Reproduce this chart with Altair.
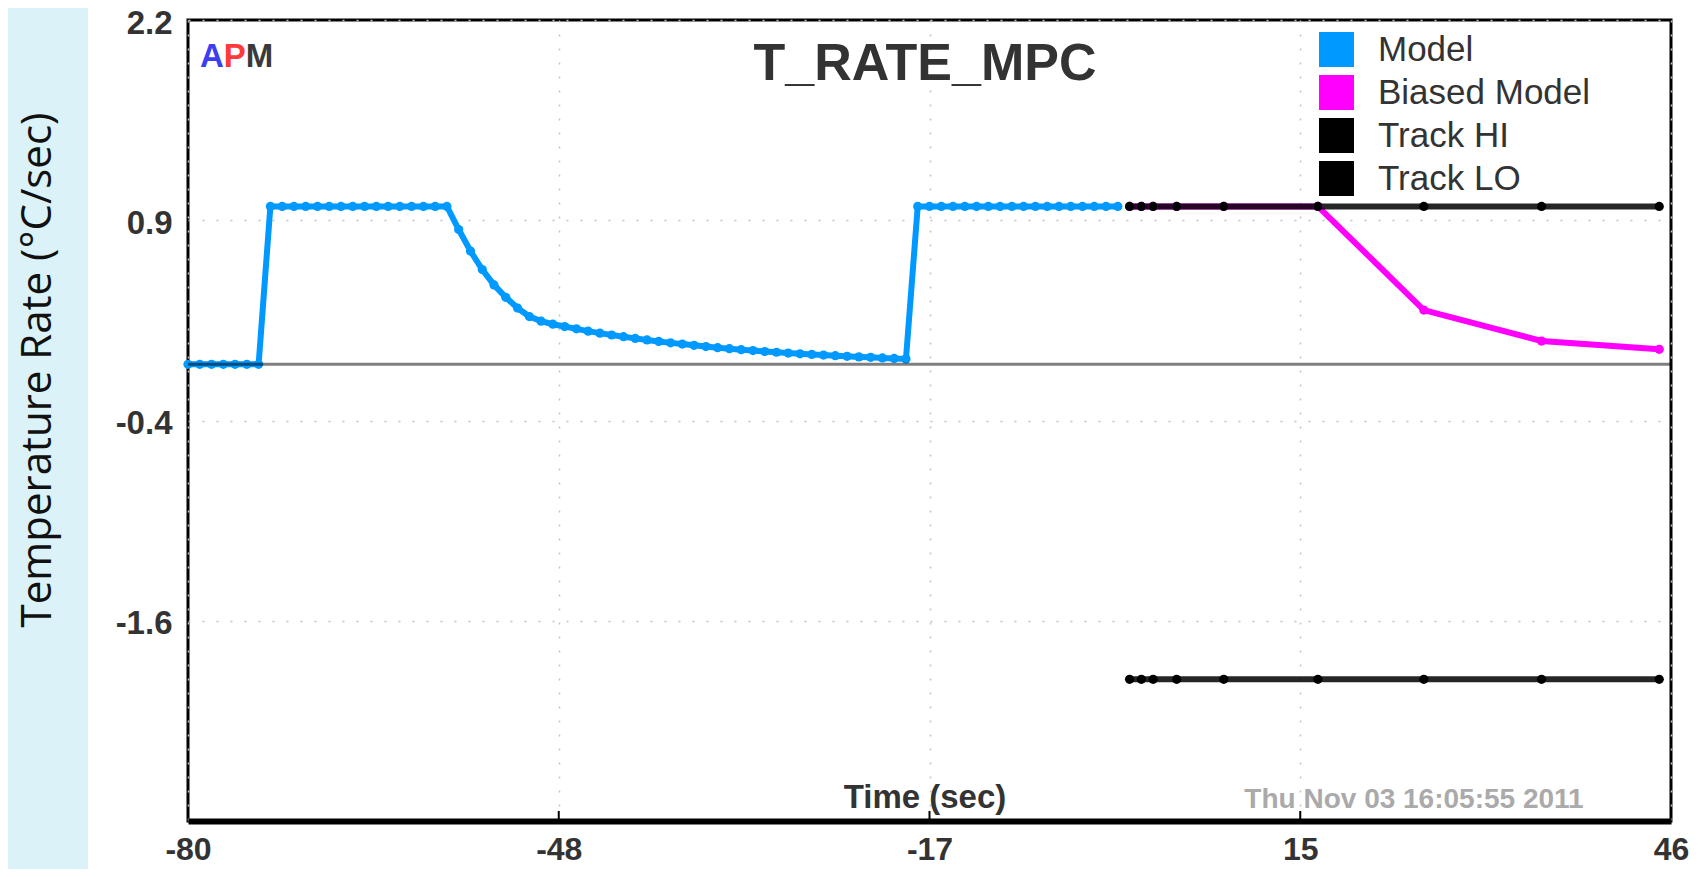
import altair as alt
import pandas as pd

# ---------------- data ----------------
model_t = list(range(-80, 0))
model_v = [
    -0.035, -0.035, -0.035, -0.035, -0.035, -0.035, -0.035,
    0.99, 0.99, 0.99, 0.99, 0.99, 0.99, 0.99, 0.99,
    0.99, 0.99, 0.99, 0.99, 0.99, 0.99, 0.99, 0.99,
    0.84, 0.70, 0.58, 0.48, 0.40, 0.33, 0.275, 0.245, 0.225, 0.21,
    0.195, 0.18, 0.167, 0.155, 0.144, 0.133, 0.123, 0.113, 0.104, 0.096,
    0.088, 0.080, 0.073, 0.066, 0.060, 0.054, 0.048, 0.043, 0.038, 0.033,
    0.029, 0.025, 0.021, 0.017, 0.013, 0.010, 0.006, 0.003, 0.000,
    0.99, 0.99, 0.99, 0.99, 0.99, 0.99, 0.99, 0.99, 0.99,
    0.99, 0.99, 0.99, 0.99, 0.99, 0.99, 0.99, 0.99, 0.99,
]

track_t = [0, 1, 2, 4, 8, 16, 25, 35, 45]
track_hi = [0.99, 0.99, 0.99, 0.99, 0.99, 0.99, 0.99, 0.99, 0.99]
track_lo = [-2.08, -2.08, -2.08, -2.08, -2.08, -2.08, -2.08, -2.08, -2.08]
biased_v = [0.99, 0.99, 0.99, 0.99, 0.99, 0.99, 0.317, 0.116, 0.062]

ref_t = [-80, 46]
ref_v = [-0.035, -0.035]

series_names = ["Model", "Biased Model", "Track HI", "Track LO"]
series_colors = ["#0099ff", "#ff00ff", "#000000", "#000000"]

x_tick_values = [-80, -48.5, -17, 14.5, 46]
x_tick_labels = ["-80", "-48", "-17", "15", "46"]
y_tick_values = [2.2, 0.9, -0.4, -1.7, -3.0]
y_tick_labels = ["2.2", "0.9", "-0.4", "-1.6", ""]

title_text = "T_RATE_MPC"
x_title = "Time (sec)"
y_title = "Temperature Rate (\u00b0C/sec)"
stamp_text = "Thu Nov 03 16:05:55 2011"
logo_letters = ["A", "P", "M"]
logo_colors = ["#3d3df2", "#ff3a3a", "#3a3a3a"]

# ---------------- tables ----------------
rows = []
for t, v in zip(track_t, biased_v):
    rows.append({"t": t, "v": v, "series": "Biased Model"})
for t, v in zip(model_t, model_v):
    rows.append({"t": t, "v": v, "series": "Model"})
for t, v in zip(track_t, track_lo):
    rows.append({"t": t, "v": v, "series": "Track LO"})
for t, v in zip(track_t, track_hi):
    rows.append({"t": t, "v": v, "series": "Track HI"})
df = pd.DataFrame(rows)
ref_df = pd.DataFrame({"t": ref_t, "v": ref_v})
tick_df = pd.DataFrame({"t": x_tick_values[1:-1]})


def label_expr(values, labels):
    parts = [f"abs(datum.value - ({v})) < 0.01 ? '{l}'" for v, l in zip(values, labels)]
    return " : ".join(parts) + " : ''"


W, H = 1483, 801

x_scale = alt.Scale(domain=[-80, 46], nice=False, zero=False)
y_scale = alt.Scale(domain=[-3.0, 2.2], nice=False, zero=False)

x_axis = alt.Axis(
    title=None, values=x_tick_values, labelExpr=label_expr(x_tick_values, x_tick_labels),
    labelFlush=False, labelPadding=13, tickSize=0, domain=True, domainColor="#000000",
    domainWidth=6, grid=True, gridColor="#c4c4c4", gridDash=[2, 12], gridWidth=1.5,
    labelFont="Liberation Sans", labelFontWeight="bold", labelFontSize=32, labelColor="#333333",
)
y_axis = alt.Axis(
    title=None, values=y_tick_values, labelExpr=label_expr(y_tick_values, y_tick_labels),
    labelPadding=16, tickSize=0, domain=False, grid=True, gridColor="#c4c4c4",
    gridDash=[2, 12], gridWidth=1.5, labelFont="Liberation Sans", labelFontWeight="bold",
    labelFontSize=33, labelColor="#333333", labelFlush=False, labelOffset=3,
)

X = alt.X("t:Q", scale=x_scale, axis=x_axis)
Y = alt.Y("v:Q", scale=y_scale, axis=y_axis)

base = alt.Chart(df)

band = alt.Chart(pd.DataFrame({"a": [0]})).mark_rect(color="#dbf3f8").encode(
    x=alt.value(-188), x2=alt.value(-100), y=alt.value(-12), y2=alt.value(849)
)

line_layers = []
for name, col in zip(["Biased Model", "Model", "Track LO", "Track HI"],
                     ["#ff00ff", "#0099ff", "#000000", "#000000"]):
    op = 0.85 if name.startswith("Track") else 1.0
    line_layers.append(
        base.transform_filter(alt.datum.series == name)
        .mark_line(strokeWidth=6, opacity=op)
        .encode(x=X, y=Y, color=alt.value(col))
    )

points = base.mark_circle(size=85, opacity=1).encode(
    x=X, y=Y,
    color=alt.Color(
        "series:N",
        scale=alt.Scale(domain=series_names, range=series_colors),
        legend=alt.Legend(
            title=None, orient="none", legendX=1131, legendY=12, symbolType="square",
            symbolSize=1225, symbolStrokeWidth=0, labelFont="Liberation Sans",
            labelFontSize=35, labelColor="#333333", labelOffset=24, rowPadding=7,
            padding=0, labelLimit=400,
        ),
    ),
)

ref_line = alt.Chart(ref_df).mark_line(color="#000000", opacity=0.5, strokeWidth=3).encode(x=X, y=Y)

ticks = alt.Chart(tick_df).mark_rule(color="#000000", strokeWidth=2).encode(
    x=alt.X("t:Q", scale=x_scale, axis=x_axis), y=alt.value(H - 10), y2=alt.value(H)
)


def txt(text, x, y, size, color, weight="bold", align="center", font="Liberation Sans", angle=0):
    kw = dict(text=text, fontSize=size, color=color, fontWeight=weight, align=align,
              font=font, baseline="alphabetic")
    if angle:
        kw["angle"] = angle
    return alt.Chart(pd.DataFrame({"a": [0]})).mark_text(**kw).encode(
        x=alt.value(x), y=alt.value(y)
    )


texts = [
    txt(title_text, 737, 60, 52, "#333333"),
    txt(x_title, 737, 788, 33, "#333333"),
    txt(stamp_text, 1226, 788, 28, "#aaaaaa"),
    txt(y_title, -137, 350, 42, "#111111", weight="normal", font="Open Sans", angle=270),
    txt(logo_letters[0], 12, 47, 33, logo_colors[0], align="left"),
    txt(logo_letters[1], 35.8, 47, 33, logo_colors[1], align="left"),
    txt(logo_letters[2], 57.8, 47, 33, logo_colors[2], align="left"),
]

chart = alt.layer(
    band, *line_layers, points, ref_line, ticks, *texts
).properties(
    width=W, height=H,
    autosize=alt.AutoSizeParams(type="none"),
    padding={"left": 180, "top": 12, "right": 26, "bottom": 48},
    background="white",
).configure_view(stroke="#000000", strokeWidth=3)

chart.save("out.html", embed_options={"renderer": "svg", "actions": False})
